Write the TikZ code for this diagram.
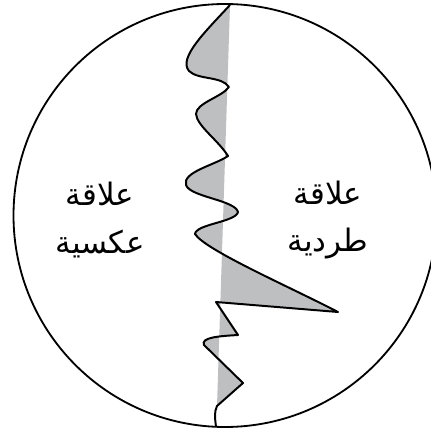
\documentclass[tikz,border=0pt]{standalone}
\usepackage{fontspec}
\usepackage{tikz}
\newfontfamily\arabicfont[Script=Arabic]{DejaVu Sans}
\TeXXeTstate=1
\definecolor{shadeGrey}{RGB}{190,191,193}

% the jagged split line, in pixel units
\newcommand{\splitpath}{(230,5)
  .. controls (205,32) and (178,58) .. (189,71)
  .. controls (198,80) and (222,76) .. (229,87)
  .. controls (222,97) and (196,103) .. (196,114)
  .. controls (197,126) and (218,140) .. (228,156)
  .. controls (215,165) and (182,172) .. (186,185)
  .. controls (190,197) and (235,200) .. (238,212)
  .. controls (236,222) and (196,224) .. (195,234)
  .. controls (205,250) and (290,287) .. (338,312)
  -- (216,302) -- (238,335)
  .. controls (222,336) and (200,337) .. (204,345)
  -- (243,383) -- (217,406)}

\begin{document}
\begin{tikzpicture}[x=0.025cm, y=-0.025cm,
    rim/.style={draw=black, line width=1.3pt},
    zig/.style={draw=black, line width=1.4pt, line join=round},
    lbl/.style={font=\arabicfont\fontsize{22}{34}\selectfont, align=center},
  ]
  \useasboundingbox (0,0) rectangle (431,432);
  \clip (0,0) rectangle (431,432);

  \fill[shadeGrey] \splitpath -- cycle;
  \draw[zig] \splitpath .. controls (214,412) and (215,418) .. (216,427);
  \draw[rim] (225,215.5) circle[radius=211.5];

  \node[lbl] (inverse) at (100,220) {\beginR علاقة\endR\\\beginR عكسية\endR};
  \node[lbl] (direct) at (328,220) {\beginR علاقة\endR\\\beginR طردية\endR};
\end{tikzpicture}
\end{document}
